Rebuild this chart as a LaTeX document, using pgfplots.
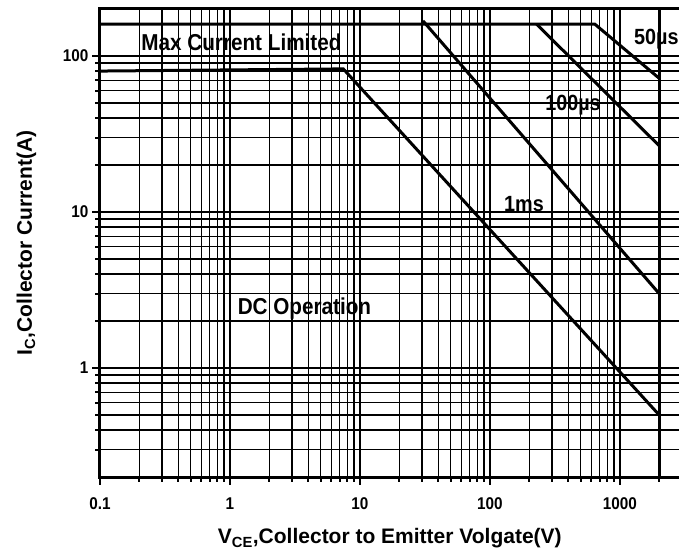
\documentclass[border=0pt]{standalone}
\usepackage{pgfplots}
\pgfplotsset{compat=1.18}
\usepackage{fontspec}
\setmainfont{Liberation Sans}
\newfontfamily\condf{Liberation Sans}[FakeStretch=0.9]
\begin{document}
\begin{tikzpicture}[x=1pt,y=1pt]
\begin{axis}[
  at={(100pt,82pt)}, anchor=south west,
  scale only axis, width=582pt, height=468pt,
  xmode=log, ymode=log,
  xmin=0.1, xmax=3000, ymin=0.2, ymax=200,
  xtick={0.1,1,10,100,1000}, xticklabels={0.1,1,10,100,1000},
  ytick={1,10,100}, yticklabels={1,10,100},
  minor xtick={0.2,0.3,0.4,0.5,0.6,0.7,0.8,0.9,2,3,4,5,6,7,8,9,20,30,40,50,60,70,80,90,200,300,400,500,600,700,800,900,2000},
  minor ytick={0.3,0.4,0.5,0.6,0.7,0.8,0.9,2,3,4,5,6,7,8,9,20,30,40,50,60,70,80,90},
  grid=both,
  major grid style={black, line width=2.6pt},
  minor grid style={black, line width=1.2pt},
  axis line style={line width=3pt},
  tick align=outside, xtick pos=bottom, ytick pos=left,
  major tick length=8pt, minor tick length=5pt,
  every major tick/.style={black, line width=2.5pt},
  every minor tick/.style={black, line width=2pt},
  xticklabel style={font=\condf\bfseries\fontsize{17}{17}\selectfont, yshift=-9pt},
  yticklabel style={font=\condf\bfseries\fontsize{17}{17}\selectfont},
  xlabel={V\textsubscript{CE},Collector to Emitter Volgate(V)},
  ylabel={I\textsubscript{C},Collector Current(A)},
  xlabel style={font=\bfseries\fontsize{21}{21}\selectfont, at={(axis description cs:0.498,-0.143)}, anchor=base},
  ylabel style={font=\bfseries\fontsize{21}{21}\selectfont, at={(axis description cs:-0.117,0.5)}, anchor=base, rotate=0},
  clip=true,
]
% Max current limit and 50us
\addplot[black, line width=3pt, mark=none] coordinates {(0.1,160) (640,160) (2000,72)};
% 100us
\addplot[black, line width=3pt, mark=none] coordinates {(228,160) (2000,26.6)};
% 1ms
\addplot[black, line width=3pt, mark=none] coordinates {(30.5,168) (2000,3)};
% DC
\addplot[black, line width=3pt, mark=none] coordinates {(0.1,80) (7.44,82.6) (2000,0.5)};
% voltage limit
\addplot[black, line width=3pt, mark=none] coordinates {(2000,0.2) (2000,200)};
\node[font=\condf\bfseries\fontsize{23}{23}\selectfont, inner sep=0pt] at (axis cs:1.225,122) {Max Current Limited};
\node[font=\condf\bfseries\fontsize{23}{23}\selectfont, inner sep=0pt] at (axis cs:3.74,2.42) {DC Operation};
\node[font=\condf\bfseries\fontsize{22}{22}\selectfont, inner sep=0pt] at (axis cs:182.6,11.3) {1ms};
\node[font=\condf\bfseries\fontsize{22}{22}\selectfont, inner sep=0pt] at (axis cs:435,48.5) {100µs};
\node[font=\condf\bfseries\fontsize{22}{22}\selectfont, inner sep=0pt, anchor=west] at (axis cs:1282,128.5) {50µs};
\end{axis}
\pgfresetboundingbox
\path[use as bounding box] (0,0) rectangle (679,559);
\end{tikzpicture}
\end{document}
